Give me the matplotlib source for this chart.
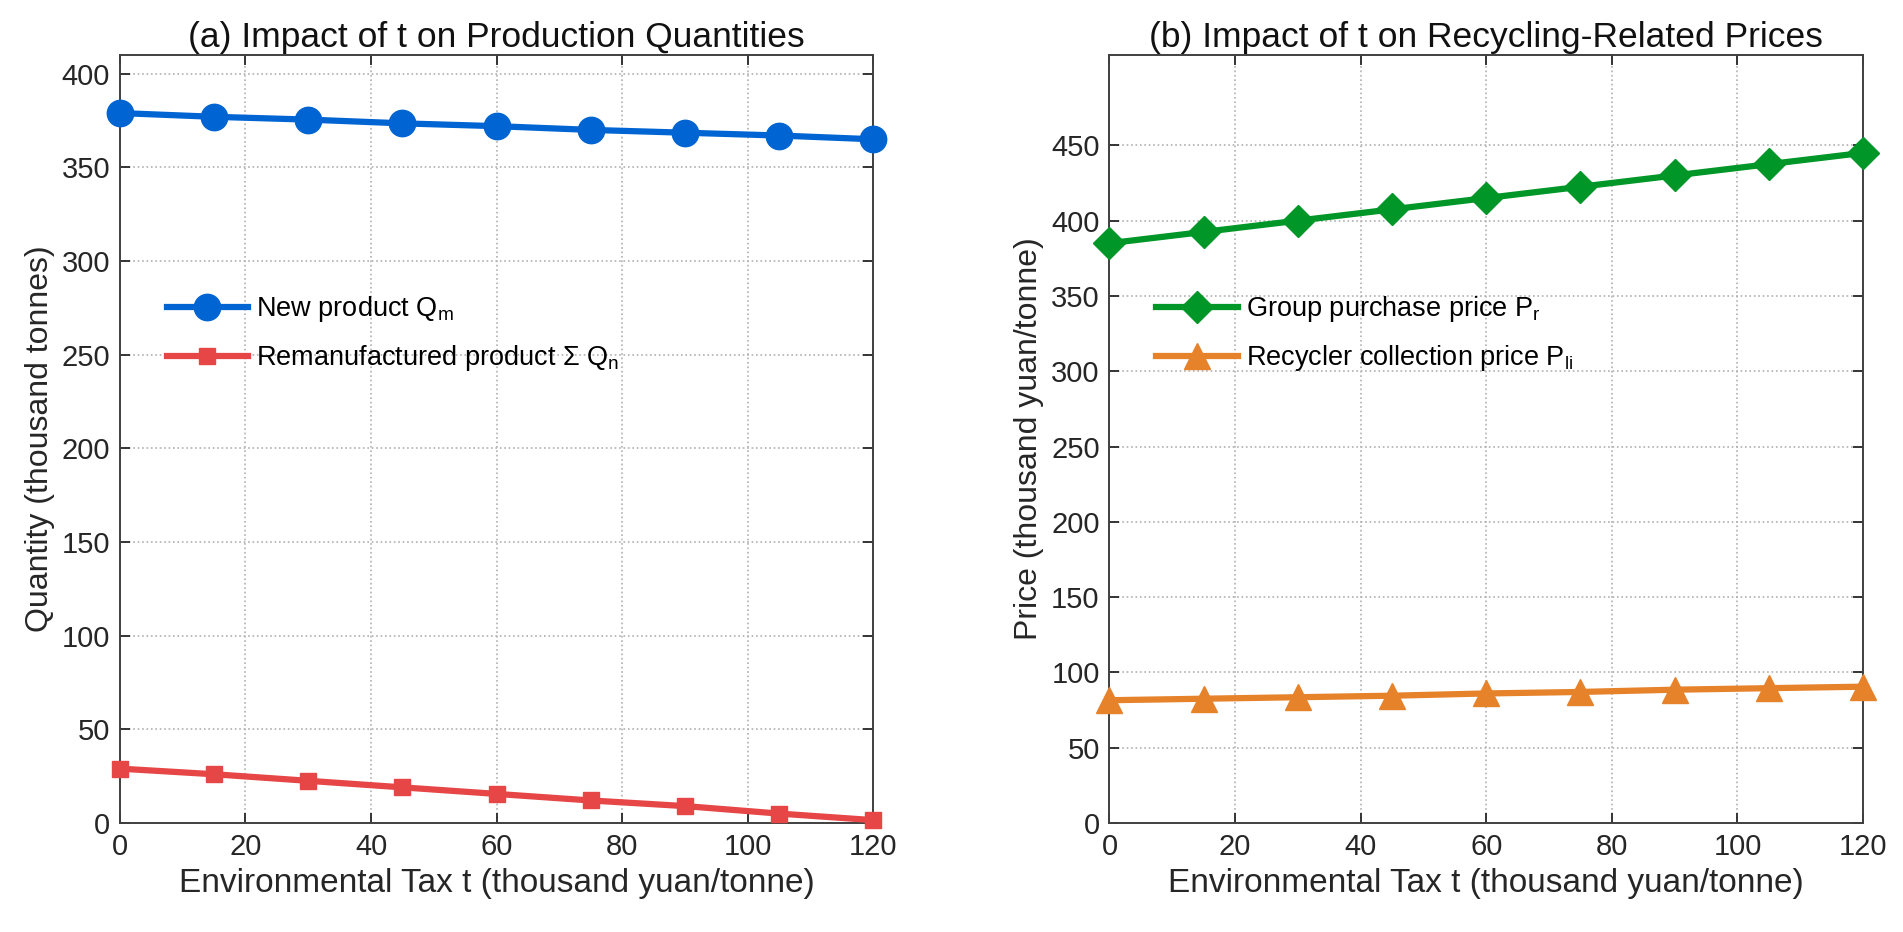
import matplotlib
matplotlib.use("Agg")
import matplotlib.pyplot as plt

plt.rcParams['font.family'] = ['Liberation Sans', 'DejaVu Sans']
plt.rcParams['mathtext.fontset'] = 'custom'
plt.rcParams['mathtext.rm'] = 'Liberation Sans'
plt.rcParams['mathtext.it'] = 'Liberation Sans'

tax = [0, 15, 30, 45, 60, 75, 90, 105, 120]

# (a) production quantities
new_product = [379, 377, 375.5, 373.5, 372, 370, 368.5, 367, 365]
reman_product = [29, 26, 22.5, 19, 15.5, 12, 9, 5, 1.5]

# (b) recycling-related prices
group_price = [385, 392.5, 400, 407.5, 415, 422.5, 430, 437.5, 445]
recycler_price = [81.5, 82.5, 83.5, 84.5, 86, 87, 88.5, 89.5, 90.5]

xticks = [0, 20, 40, 60, 80, 100, 120]
txt = '#262626'

fig = plt.figure(figsize=(19.03, 9.32), dpi=100)
ax1 = fig.add_axes([0.063, 0.117, 0.396, 0.824])
ax2 = fig.add_axes([0.583, 0.117, 0.396, 0.824])


def style(ax, ylim, yticks, ylabel, title):
    ax.set_xlim(0, 120)
    ax.set_ylim(*ylim)
    ax.set_xticks(xticks)
    ax.set_yticks(yticks)
    ax.grid(True, linestyle=':', color='#b0b0b0', linewidth=1.2)
    ax.set_axisbelow(True)
    ax.tick_params(direction='in', top=True, right=True, length=7,
                   width=1.3, color=txt, labelsize=21, labelcolor=txt, pad=7)
    for s in ax.spines.values():
        s.set_color('#404040')
        s.set_linewidth(1.4)
    ax.set_xlabel('Environmental Tax t (thousand yuan/tonne)', fontsize=24, color=txt, labelpad=5)
    ax.set_ylabel(ylabel, fontsize=23, color=txt, labelpad=5)
    ax.set_title(title, fontsize=25.5, color='#111111', pad=6)


ax1.plot(tax, new_product, color='#0064D2', lw=4.5, marker='o', ms=19,
         label=r'New product Q$_{\mathrm{m}}$', clip_on=False, zorder=3)
ax1.plot(tax, reman_product, color='#E64646', lw=4.5, marker='s', ms=12,
         label=r'Remanufactured product $\Sigma$ Q$_{\mathrm{n}}$', clip_on=False, zorder=3)
style(ax1, (0, 410), list(range(0, 401, 50)), 'Quantity (thousand tonnes)',
      '(a) Impact of t on Production Quantities')
ax1.legend(loc='upper left', bbox_to_anchor=(0.03, 0.72), frameon=False,
           fontsize=19.5, handlelength=3.0, labelspacing=0.7, handletextpad=0.3)

ax2.plot(tax, group_price, color='#009628', lw=4.5, marker='D', ms=16,
         label=r'Group purchase price P$_{\mathrm{r}}$', clip_on=False, zorder=3)
ax2.plot(tax, recycler_price, color='#E6822A', lw=4.5, marker='^', ms=19,
         label=r'Recycler collection price P$_{\mathrm{li}}$', clip_on=False, zorder=3)
style(ax2, (0, 510), list(range(0, 451, 50)), 'Price (thousand yuan/tonne)',
      '(b) Impact of t on Recycling-Related Prices')
ax2.legend(loc='upper left', bbox_to_anchor=(0.03, 0.72), frameon=False,
           fontsize=19.5, handlelength=3.0, labelspacing=0.7, handletextpad=0.3)

fig.savefig('out.png', dpi=100)
